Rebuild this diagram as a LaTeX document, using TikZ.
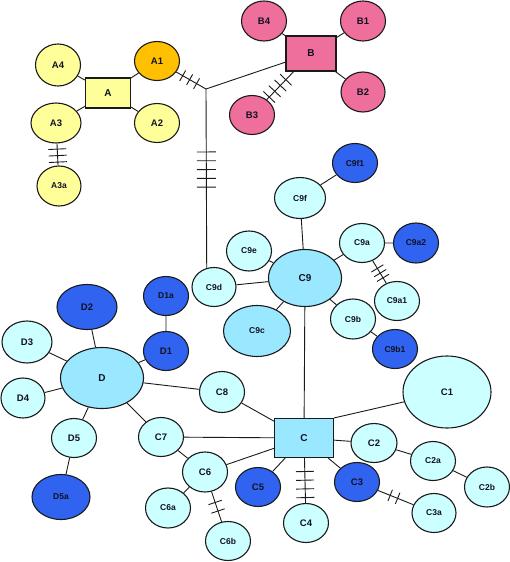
\documentclass[tikz,border=0pt]{standalone}
\usepackage{fontspec}
\setmainfont{Liberation Sans}
\usetikzlibrary{shapes.geometric,decorations.markings}
\definecolor{yl}{HTML}{FFFF99}
\definecolor{orng}{HTML}{FFC000}
\definecolor{pk}{HTML}{EF6F9C}
\definecolor{lcf}{HTML}{CCFFFF}
\definecolor{mcf}{HTML}{99E8FF}
\definecolor{dbf}{HTML}{3064F0}
\definecolor{outl}{HTML}{1A1A1A}
\definecolor{txt}{HTML}{111122}
\begin{document}
\begin{tikzpicture}[x=1pt,y=-1pt,
  nd/.style={ellipse,draw=outl,line width=1.1pt,inner sep=0pt,minimum width=45pt,minimum height=39pt,font=\bfseries\fontsize{9.5}{10}\selectfont,text=txt},
  bx/.style={rectangle,draw=outl,line width=1.1pt,inner sep=0pt,font=\bfseries\fontsize{10}{11}\selectfont,text=txt},
  sm/.style={font=\bfseries\fontsize{8.5}{9}\selectfont},
  sz/.style 2 args={minimum width=#1pt,minimum height=#2pt},
  lc/.style={nd,fill=lcf},
  mc/.style={nd,fill=mcf},
  db/.style={nd,fill=dbf},
  lnk/.style={draw=outl,line width=0.9pt},
  tk/.style n args={4}{postaction={decorate,decoration={markings,mark=at position #1 with {\foreach \k in {1,...,#2}{\draw[lnk] ({(\k-(#2+1)/2)*#3pt},-#4pt) -- ({(\k-(#2+1)/2)*#3pt},#4pt);}}}}}
]
\useasboundingbox (0,0) rectangle (510,562);
\fill[white] (0,0) rectangle (510,562);
% A cluster
\node[bx,fill=yl,minimum width=45pt,minimum height=30pt] (A) at (108,93) {A};
\node[nd,fill=yl,sz={45}{42}] (A4) at (58,65) {A4};
\node[nd,fill=orng] (A1) at (157,61) {A1};
\node[nd,fill=yl,sz={50}{40}] (A3) at (56,123) {A3};
\node[nd,fill=yl] (A2) at (157,123) {A2};
\node[nd,sm,fill=yl,sz={44}{40}] (A3a) at (59,186) {A3a};
% B cluster
\node[bx,fill=pk,minimum width=50pt,minimum height=35pt] (B) at (311,53.5) {B};
\node[nd,fill=pk,sz={45}{40}] (B4) at (264,21) {B4};
\node[nd,fill=pk,sz={45}{40}] (B1) at (363,21) {B1};
\node[nd,fill=pk,sz={44}{40}] (B2) at (363,92) {B2};
\node[nd,fill=pk] (B3) at (252,115) {B3};
% C9 cluster
\node[db,sm] (C9f1) at (355,163) {C9f1};
\node[lc,sm,sz={51}{41}] (C9f) at (300,198) {C9f};
\node[lc,sm,sz={45}{40}] (C9e) at (249,251) {C9e};
\node[mc,sz={73}{57},font=\bfseries\fontsize{10}{11}\selectfont] (C9) at (305,278) {C9};
\node[lc,sm] (C9a) at (362,243) {C9a};
\node[db,sm,sz={45}{40}] (C9a2) at (416,243) {C9a2};
\node[lc,sm] (C9a1) at (397,301) {C9a1};
\node[lc,sm,sz={44}{39}] (C9d) at (214,287) {C9d};
\node[mc,sm,sz={67}{51}] (C9c) at (257,331) {C9c};
\node[lc,sm,sz={45}{40}] (C9b) at (353,319) {C9b};
\node[db,sm] (C9b1) at (395,349) {C9b1};
% D cluster
\node[db,sz={60}{45}] (D2) at (87,307) {D2};
\node[db,sm] (D1a) at (166,296) {D1a};
\node[db] (D1) at (166,351) {D1};
\node[lc,sz={50}{42}] (D3) at (27,342) {D3};
\node[mc,sz={83}{61},font=\bfseries\fontsize{10}{11}\selectfont] (D) at (102,378) {D};
\node[lc,sz={44}{40}] (D4) at (23,398) {D4};
\node[lc] (D5) at (74,438) {D5};
\node[db,sm,sz={58}{45}] (D5a) at (61,497) {D5a};
% C cluster
\node[bx,fill=mcf,minimum width=59pt,minimum height=39pt] (C) at (304,438) {C};
\node[lc,sz={88}{72}] (C1) at (447,392) {C1};
\node[lc,sz={45}{41}] (C8) at (222,392) {C8};
\node[lc] (C7) at (161,437) {C7};
\node[lc,sz={45}{40}] (C6) at (205,472) {C6};
\node[lc,sm,sz={45}{40}] (C6a) at (168,508) {C6a};
\node[lc,sm] (C6b) at (228,541) {C6b};
\node[db] (C5) at (258,487) {C5};
\node[lc] (C4) at (306,523) {C4};
\node[db] (C3) at (357,482) {C3};
\node[lc,sm,sz={44}{39}] (C3a) at (434,513) {C3a};
\node[lc,sz={46}{39}] (C2) at (374,443) {C2};
\node[lc,sm] (C2a) at (433,461) {C2a};
\node[lc,sm,sz={45}{40}] (C2b) at (487,487) {C2b};
% junction
\coordinate (J) at (206,89);
% links
\draw[lnk] (A) -- (A1) (A) -- (A2) (A) -- (A3) (A) -- (A4);
\draw[lnk,tk={0.55}{3}{6.5}{9}] (A3) -- (A3a);
\draw[lnk,tk={0.45}{3}{8}{6}] (A1) -- (J);
\draw[lnk] (J) -- (B);
\draw[lnk,tk={0.45}{5}{8.8}{9.5}] (J) -- (C9d.111);
\draw[lnk] (B) -- (B1) (B) -- (B2) (B) -- (B4);
\draw[lnk,tk={0.4}{4}{8}{8}] (B3) -- (B);
\draw[lnk] (C9f1) -- (C9f) (C9f) -- (C9) (C9) -- (C9e) (C9) -- (C9a) (C9) -- (C9d) (C9) -- (C9c) (C9) -- (C9b) (C9a) -- (C9a2) (C9b) -- (C9b1) (C9) -- (C);
\draw[lnk,tk={0.55}{3}{5.5}{7}] (C9a) -- (C9a1);
\draw[lnk] (D) -- (D1) (D1) -- (D1a) (D) -- (D2) (D) -- (D3) (D) -- (D4) (D) -- (D5) (D5) -- (D5a) (D) -- (C8) (D) -- (C7);
\draw[lnk] (C) -- (C8) (C) -- (C7) (C) -- (C6) (C) -- (C5) (C) -- (C3) (C) -- (C2) (C.north east) -- (C1);
\draw[lnk,tk={0.59}{4}{8.7}{9}] (C) -- (C4);
\draw[lnk] (C7) -- (C6) (C6) -- (C6a) (C2) -- (C2a) (C2a) -- (C2b);
\draw[lnk,tk={0.5}{2}{9}{7}] (C6) -- (C6b);
\draw[lnk,tk={0.45}{2}{8}{6}] (C3) -- (C3a);
\end{tikzpicture}
\end{document}
